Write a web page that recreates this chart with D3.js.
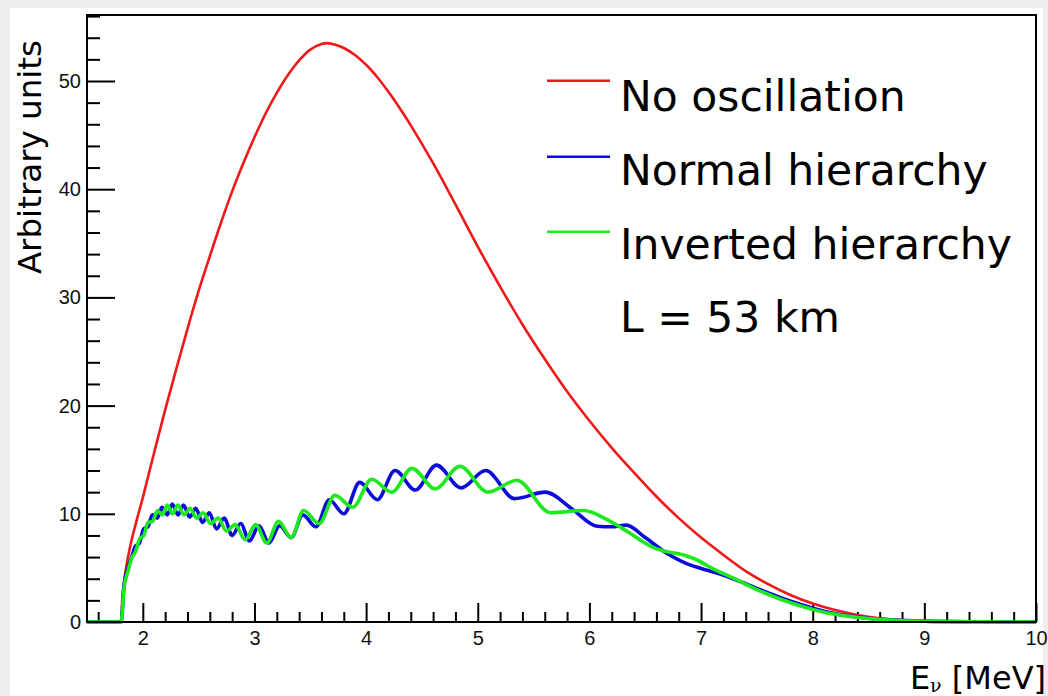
<!DOCTYPE html>
<html>
<head>
<meta charset="utf-8">
<script src="https://cdn.jsdelivr.net/npm/d3@7"></script>
<style>
  html, body { margin: 0; padding: 0; background: #efeeec; }
  svg { display: block; }
</style>
</head>
<body>
<svg id="chart" width="1048" height="696"></svg>
<script>
// Reactor antineutrino spectrum at a 53 km baseline (energies in MeV, rates in arbitrary units)
const noOscEnergy = [1.5, 1.8, 1.806, 1.815, 1.83, 1.85, 1.875, 1.9, 1.95, 2.0, 2.1, 2.2, 2.3, 2.4, 2.5, 2.6, 2.7, 2.8, 2.9, 3.0,
  3.1, 3.2, 3.3, 3.4, 3.5, 3.6, 3.65, 3.7, 3.8, 3.9, 4.0, 4.1, 4.2, 4.3, 4.4, 4.6, 4.8, 5.0, 5.2, 5.4, 5.6, 5.8,
  6.0, 6.2, 6.4, 6.6, 6.8, 7.0, 7.2, 7.4, 7.6, 7.8, 8.0, 8.2, 8.4, 8.6, 8.8, 9.0, 9.5, 10.0];
const noOscRate = [0, 0, 0, 2.0, 3.6, 5.0, 6.4, 7.6, 9.6, 11.5, 15.6, 19.6, 23.4, 27.1, 30.6, 33.8, 36.9, 39.8, 42.4, 44.8,
  47.0, 48.9, 50.55, 51.9, 52.9, 53.42, 53.5, 53.42, 53.05, 52.4, 51.5, 50.35, 49.0, 47.5, 45.9, 42.4, 38.6, 34.7, 31.0, 27.5, 24.3, 21.3,
  18.6, 16.1, 13.8, 11.6, 9.6, 7.8, 6.2, 4.7, 3.5, 2.5, 1.7, 1.1, 0.65, 0.35, 0.17, 0.08, 0.02, 0];

const normalEnergy = [1.5, 1.8, 1.806, 1.83, 1.866, 1.9, 1.934, 1.97, 2.007, 2.045, 2.086, 2.13, 2.171, 2.218, 2.264, 2.315,
  2.364, 2.42, 2.474, 2.535, 2.595, 2.66, 2.729, 2.8, 2.876, 2.955, 3.041, 3.13, 3.225, 3.33, 3.433, 3.55, 3.67, 3.8,
  3.943, 4.1, 4.259, 4.44, 4.63, 4.85, 5.071, 5.33, 5.606, 5.85, 6.07, 6.2, 6.33, 6.5, 6.7, 6.87, 7.0, 7.15, 7.3, 7.5,
  7.7, 7.9, 8.1, 8.3, 8.5, 8.7, 9.0, 9.5, 10.0];
const normalRate = [0, 0, 0, 3.2, 5.0, 6.0, 7.0, 7.3, 8.6, 8.8, 9.9, 9.6, 10.6, 9.9, 10.9, 9.9,
  10.8, 9.7, 10.5, 9.2, 10.1, 8.6, 9.6, 8.0, 9.1, 7.5, 8.9, 7.3, 8.9, 7.8, 9.9, 8.8, 11.3, 10.0,
  12.9, 11.3, 14.0, 12.2, 14.5, 12.4, 14.0, 11.4, 12.0, 10.4, 8.85, 8.8, 8.95, 7.8, 6.3, 5.4, 4.95, 4.5, 3.95, 3.1,
  2.3, 1.6, 1.0, 0.6, 0.35, 0.2, 0.08, 0.02, 0];

const invertedEnergy = [1.5, 1.8, 1.806, 1.83, 1.87, 1.9, 1.935, 1.972, 2.009, 2.046, 2.088, 2.131, 2.175, 2.219, 2.266, 2.314,
  2.369, 2.424, 2.482, 2.54, 2.607, 2.674, 2.75, 2.826, 2.918, 3.01, 3.11, 3.215, 3.33, 3.44, 3.58, 3.72, 3.88,
  4.05, 4.23, 4.41, 4.62, 4.84, 5.09, 5.35, 5.65, 5.95, 6.15, 6.35, 6.55, 6.65, 6.8, 6.95, 7.1, 7.3, 7.5, 7.7, 7.9,
  8.1, 8.3, 8.5, 8.7, 9.0, 9.5, 10.0];
const invertedRate = [0, 0, 0, 3.0, 4.8, 5.9, 6.5, 7.7, 8.0, 9.2, 9.3, 10.3, 9.9, 10.8, 10.0, 10.8,
  9.9, 10.5, 9.6, 10.1, 9.1, 9.6, 8.4, 9.0, 7.6, 9.0, 7.3, 9.3, 7.8, 10.3, 9.1, 11.7, 10.6,
  13.2, 12.0, 14.2, 12.3, 14.4, 12.0, 13.1, 10.1, 10.3, 9.5, 8.3, 7.0, 6.6, 6.3, 5.8, 4.95, 4.0, 3.0, 2.15, 1.45,
  0.9, 0.55, 0.32, 0.18, 0.07, 0.02, 0];

const xMajorTicks = [2, 3, 4, 5, 6, 7, 8, 9, 10];
const yMajorTicks = [0, 10, 20, 30, 40, 50];
const seriesNames = ["No oscillation", "Normal hierarchy", "Inverted hierarchy"];
const baselineNote = "L = 53 km";
const yTitle = "Arbitrary units";

// ---- layout ----
const frame = { left: 87, right: 1036, top: 15, bottom: 622 };
const colors = ["#f01818", "#0b0bdc", "#1ee81e"];
const widths = [2.6, 3.6, 3.6];

const svg = d3.select("#chart");

// canvas panel
svg.append("rect").attr("x", 10).attr("y", 8).attr("width", 1033).attr("height", 700).attr("fill", "#ffffff");

const x = d3.scaleLinear().domain([1.5, 10]).range([frame.left, frame.right]);
const y = d3.scaleLinear().domain([0, 56.1]).range([frame.bottom, frame.top]);

// minor ticks
const xMinor = d3.range(1.6, 10.0001, 0.2).map(v => +v.toFixed(1)).filter(v => Math.abs(v - Math.round(v)) > 1e-6);
const yMinor = d3.range(2, 56.5, 2).filter(v => v % 10 !== 0);

const tickFont = "'Liberation Sans', Arial, Helvetica, sans-serif";

const gx = svg.append("g").attr("transform", `translate(0,${frame.bottom})`);
gx.call(d3.axisBottom(x).tickValues(xMinor).tickSize(-10).tickFormat(""));
gx.call(g => g.select(".domain").remove());
const gxMajor = svg.append("g").attr("transform", `translate(0,${frame.bottom})`)
  .call(d3.axisBottom(x).tickValues(xMajorTicks).tickSize(-19).tickPadding(9).tickFormat(d3.format("d")));
gxMajor.select(".domain").remove();

const gy = svg.append("g").attr("transform", `translate(${frame.left},0)`);
gy.call(d3.axisLeft(y).tickValues(yMinor).tickSize(-13).tickFormat(""));
gy.select(".domain").remove();
const gyMajor = svg.append("g").attr("transform", `translate(${frame.left},0)`)
  .call(d3.axisLeft(y).tickValues(yMajorTicks).tickSize(-28).tickPadding(6).tickFormat(d3.format("d")));
gyMajor.select(".domain").remove();

svg.selectAll(".tick line").attr("stroke", "#000").attr("stroke-width", 2);
svg.selectAll(".tick text").attr("font-family", tickFont).attr("font-size", 20).attr("fill", "#111");

// curves
svg.append("clipPath").attr("id", "plotClip")
  .append("rect").attr("x", frame.left).attr("y", frame.top)
  .attr("width", frame.right - frame.left).attr("height", frame.bottom - frame.top + 3);

const smoothLine = d3.line().x(d => x(d[0])).y(d => y(d[1])).curve(d3.curveCatmullRom.alpha(0.5));
const wavyLine = d3.line().x(d => x(d[0])).y(d => y(d[1])).curve(d3.curveMonotoneX);
const series = [
  d3.zip(noOscEnergy, noOscRate),
  d3.zip(normalEnergy, normalRate),
  d3.zip(invertedEnergy, invertedRate)
];
const gCurves = svg.append("g").attr("clip-path", "url(#plotClip)");
series.forEach((pts, i) => {
  gCurves.append("path").datum(pts)
    .attr("d", i === 0 ? smoothLine : wavyLine)
    .attr("fill", "none")
    .attr("stroke", colors[i])
    .attr("stroke-width", widths[i])
    .attr("stroke-linejoin", "round");
});

// frame
svg.append("rect")
  .attr("x", frame.left).attr("y", frame.top)
  .attr("width", frame.right - frame.left).attr("height", frame.bottom - frame.top)
  .attr("fill", "none").attr("stroke", "#000").attr("stroke-width", 2);

// legend
const textFont = "'DejaVu Sans', Verdana, sans-serif";
const legendRows = [80.7, 156.7, 231.7];
const legendBase = [111, 185, 258.5];
seriesNames.forEach((name, i) => {
  svg.append("line").attr("x1", 547).attr("x2", 610)
    .attr("y1", legendRows[i]).attr("y2", legendRows[i])
    .attr("stroke", colors[i]).attr("stroke-width", 2.6);
  svg.append("text").attr("x", 620).attr("y", legendBase[i])
    .attr("font-family", textFont).attr("font-size", 42.5).attr("fill", "#000")
    .text(name);
});
svg.append("text").attr("x", 620).attr("y", 332)
  .attr("font-family", textFont).attr("font-size", 42.5).attr("fill", "#000")
  .text(baselineNote);

// axis titles
svg.append("text")
  .attr("transform", "translate(41,40) rotate(-90)")
  .attr("text-anchor", "end")
  .attr("font-family", textFont).attr("font-size", 32.5).attr("fill", "#000")
  .text(yTitle);

const xt = svg.append("text")
  .attr("x", 1046).attr("y", 689)
  .attr("text-anchor", "end")
  .attr("font-family", textFont).attr("font-size", 32).attr("fill", "#000");
xt.append("tspan").text("E");
xt.append("tspan").attr("font-size", 19).attr("dy", 3)
  .attr("font-family", "'DejaVu Serif', 'Liberation Serif', serif").text("ν");
xt.append("tspan").attr("dy", -3).text(" [MeV]");
</script>
</body>
</html>
